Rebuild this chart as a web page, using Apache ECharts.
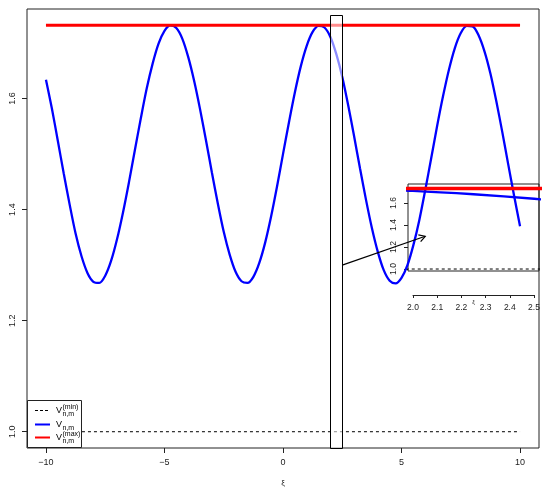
<!DOCTYPE html>
<html><head><meta charset="utf-8">
<script src="https://cdn.jsdelivr.net/npm/echarts@6/dist/echarts.min.js"></script>
<style>html,body{margin:0;padding:0;background:#fff}#c{width:550px;height:494px}</style>
</head><body><div id="c"></div>
<script>
// ---- data ----
const xi = [-10,-9.75,-9.5,-9.25,-9,-8.75,-8.5,-8.25,-8,-7.75,-7.5,-7.25,-7,-6.75,-6.5,-6.25,-6,-5.75,-5.5,-5.25,-5,-4.75,-4.5,-4.25,-4,-3.75,-3.5,-3.25,-3,-2.75,-2.5,-2.25,-2,-1.75,-1.5,-1.25,-1,-0.75,-0.5,-0.25,
  0,0.25,0.5,0.75,1,1.25,1.5,1.75,2,2.25,2.5,2.75,3,3.25,3.5,3.75,4,4.25,4.5,4.75,5,5.25,5.5,5.75,6,6.25,6.5,6.75,7,7.25,7.5,7.75,8,8.25,8.5,8.75,9,9.25,9.5,9.75,10];
const vnm = [1.634,1.582,1.524,1.465,1.409,1.357,1.316,1.286,1.270,1.268,1.281,1.308,1.347,1.395,1.449,1.507,1.564,1.618,1.663,1.699,1.722,1.732,1.727,1.708,1.675,1.632,1.581,1.525,1.467,1.411,1.360,1.319,1.288,1.271,1.268,1.279,1.304,1.341,1.388,1.442,
  1.500,1.557,1.611,1.658,1.695,1.720,1.731,1.728,1.711,1.680,1.639,1.588,1.532,1.474,1.418,1.367,1.324,1.291,1.272,1.267,1.277,1.300,1.336,1.381,1.435,1.492,1.550,1.604,1.652,1.691,1.718,1.731,1.730,1.714,1.685,1.645,1.595,1.540,1.482,1.425,1.370];
const xEnds = [-10, 10];
const vmax  = [1.732, 1.732];
const vmin  = [1.0, 1.0];
const xTicks = [-10, -5, 0, 5, 10];
const yTicks = [1.0, 1.2, 1.4, 1.6];
const zoomX = [2.0, 2.5];
const zoomY = [0.97, 1.75];
const arrowFrom = [2.5, 1.30];
const arrowTo   = [6.0, 1.352];
const legendLabels = [
  {base: 'V', sup: '(min)', sub: 'n,m'},
  {base: 'V', sup: '',      sub: 'n,m'},
  {base: 'V', sup: '(max)', sub: 'n,m'}
];

const FONT = 'Liberation Sans, Arial, Helvetica, sans-serif';
const INK = '#222';
const pairs = (xs, ys) => xs.map((x, i) => [x, ys[i]]);
const fmtInt = v => (v < 0 ? '\u2212' + Math.abs(v) : String(v));
const fmt1 = v => v.toFixed(1);

const chart = echarts.init(document.getElementById('c'), null, {renderer: 'canvas'});

function lineSeries(xa, ya, data, color, width, type, z) {
  return {type: 'line', xAxisIndex: xa, yAxisIndex: ya, data: data, showSymbol: false,
    smooth: type === 'smooth' ? 0.3 : false, clip: true, z: z || 2, silent: true,
    lineStyle: {color: color, width: width, type: type === 'dashed' ? [3, 3] : 'solid'}};
}

const legendGraphic = [{type: 'rect', shape: {x: 27.5, y: 400.5, width: 54, height: 47},
  style: {fill: '#fff', stroke: INK, lineWidth: 1}, z: 100}];
const legendStyles = [
  {stroke: '#000', lineWidth: 1, lineDash: [3, 2]},
  {stroke: '#0000ff', lineWidth: 2},
  {stroke: '#ff0000', lineWidth: 2}
];
const legendRowY = [410, 424, 437];
legendLabels.forEach((lab, i) => {
  const y = legendRowY[i];
  legendGraphic.push({type: 'line', shape: {x1: 35, y1: y + 0.5, x2: 50, y2: y + 0.5}, style: legendStyles[i], z: 101});
  legendGraphic.push({type: 'text', x: 56, y: y + 1, style: {text: lab.base, font: '9px ' + FONT, fill: '#000', verticalAlign: 'middle'}, z: 101});
  if (lab.sup) legendGraphic.push({type: 'text', x: 62.5, y: y - 3, style: {text: lab.sup, font: '7px ' + FONT, fill: '#000', verticalAlign: 'middle'}, z: 101});
  legendGraphic.push({type: 'text', x: 62.5, y: y + 4, style: {text: lab.sub, font: '7px ' + FONT, fill: '#000', verticalAlign: 'middle'}, z: 101});
});

const option = {
  animation: false,
  backgroundColor: '#fff',
  textStyle: {fontFamily: FONT},
  grid: [
    {left: 27, top: 9, width: 512, height: 439, show: true, borderColor: INK, borderWidth: 1, backgroundColor: 'transparent'},
    {left: 408, top: 184, width: 131, height: 87, show: true, borderColor: INK, borderWidth: 1, backgroundColor: 'transparent'},
    {left: 413, top: 184, width: 121, height: 87, show: false}
  ],
  xAxis: [
    {gridIndex: 0, type: 'value', min: -10.8, max: 10.8, axisLine: {show: false, onZero: false}, splitLine: {show: false},
      axisTick: {show: true, customValues: xTicks, length: 5, lineStyle: {color: INK}},
      axisLabel: {customValues: xTicks, fontSize: 9, color: INK, margin: 10, fontFamily: FONT, formatter: fmtInt},
      name: 'ξ', nameLocation: 'middle', nameGap: 31, nameMoveOverlap: false, nameTextStyle: {fontSize: 8, color: INK, fontFamily: FONT}},
    {gridIndex: 1, type: 'value', min: 1.98, max: 2.52, show: false},
    {gridIndex: 2, type: 'value', min: 2.0, max: 2.5, interval: 0.1, offset: 24,
      axisLine: {show: true, onZero: false, lineStyle: {color: INK, width: 1}}, splitLine: {show: false},
      axisTick: {show: true, length: 3, lineStyle: {color: INK}},
      axisLabel: {fontSize: 8.5, color: INK, margin: 8, fontFamily: FONT, formatter: fmt1},
      name: 'ξ', nameLocation: 'middle', nameGap: 4, nameMoveOverlap: false, nameTextStyle: {fontSize: 6, color: INK, fontFamily: FONT}}
  ],
  yAxis: [
    {gridIndex: 0, type: 'value', min: 0.9707, max: 1.7613, axisLine: {show: false, onZero: false}, splitLine: {show: false},
      axisTick: {show: true, customValues: yTicks, length: 5, lineStyle: {color: INK}},
      axisLabel: {customValues: yTicks, rotate: 90, fontSize: 9, color: INK, margin: 10, fontFamily: FONT, formatter: fmt1}},
    {gridIndex: 1, type: 'value', min: 0.982, max: 1.773, axisLine: {show: false, onZero: false}, splitLine: {show: false},
      axisTick: {show: true, customValues: yTicks, length: 4, lineStyle: {color: INK}},
      axisLabel: {customValues: yTicks, rotate: 90, fontSize: 8.5, color: INK, margin: 10, fontFamily: FONT, formatter: fmt1}},
    {gridIndex: 2, type: 'value', min: 0.982, max: 1.773, show: false}
  ],
  series: [
    lineSeries(0, 0, pairs(xEnds, vmin), '#000', 1, 'dashed'),
    lineSeries(0, 0, pairs(xi, vnm), '#0000ff', 2.3, 'smooth', 3),
    lineSeries(0, 0, pairs(xEnds, vmax), '#ff0000', 3, 'solid', 3),
    lineSeries(1, 1, pairs(xEnds, vmin), '#000', 1, 'dashed'),
    lineSeries(1, 1, pairs(xi, vnm), '#0000ff', 2.3, 'smooth', 3),
    lineSeries(1, 1, pairs(xEnds, vmax), '#ff0000', 3.5, 'solid', 3),
    {type: 'custom', xAxisIndex: 0, yAxisIndex: 0, z: 10, silent: true,
      data: [[zoomX[0], zoomY[1], zoomX[1], zoomY[0]]],
      encode: {x: [0, 2], y: [1, 3]},
      renderItem: function (params, api) {
        const p0 = api.coord([api.value(0), api.value(1)]);
        const p1 = api.coord([api.value(2), api.value(3)]);
        return {type: 'rect', shape: {x: Math.round(p0[0]) + 0.5, y: Math.round(p0[1]) + 0.5,
            width: Math.round(p1[0] - p0[0]), height: Math.round(p1[1] - p0[1])},
          style: {fill: 'rgba(255,255,255,0.55)', stroke: '#000', lineWidth: 1}};
      }},
    {type: 'custom', xAxisIndex: 0, yAxisIndex: 0, z: 11, silent: true,
      data: [[arrowFrom[0], arrowFrom[1], arrowTo[0], arrowTo[1]]],
      encode: {x: [0, 2], y: [1, 3]},
      renderItem: function (params, api) {
        const a = api.coord([api.value(0), api.value(1)]);
        const b = api.coord([api.value(2), api.value(3)]);
        const ang = Math.atan2(b[1] - a[1], b[0] - a[0]);
        const L = 7, w = Math.PI / 6;
        const h1 = [b[0] - L * Math.cos(ang - w), b[1] - L * Math.sin(ang - w)];
        const h2 = [b[0] - L * Math.cos(ang + w), b[1] - L * Math.sin(ang + w)];
        return {type: 'group', children: [
          {type: 'line', shape: {x1: a[0], y1: a[1], x2: b[0], y2: b[1]}, style: {stroke: '#000', lineWidth: 1.2}},
          {type: 'polyline', shape: {points: [h1, b, h2]}, style: {stroke: '#000', lineWidth: 1.2, fill: null}}
        ]};
      }}
  ],
  graphic: legendGraphic
};
chart.setOption(option);
</script>
</body></html>
